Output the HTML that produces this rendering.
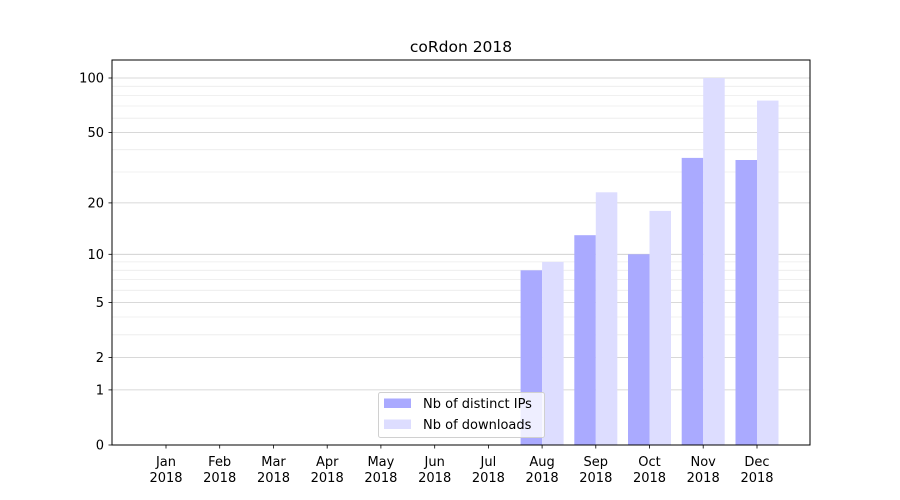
<!DOCTYPE html>
<html><head><style>body{margin:0;background:#fff}svg{display:block;font-family:"DejaVu Sans","Liberation Sans",sans-serif}</style></head><body>
<svg width="900" height="500" xmlns="http://www.w3.org/2000/svg">
<rect width="900" height="500" fill="#fff"/>
<g stroke="#ebebeb" stroke-width="0.8">
<line x1="112" x2="810" y1="334.8" y2="334.8"/><line x1="112" x2="810" y1="317" y2="317"/>
<line x1="112" x2="810" y1="290.3" y2="290.3"/><line x1="112" x2="810" y1="279.6" y2="279.6"/>
<line x1="112" x2="810" y1="270.3" y2="270.3"/><line x1="112" x2="810" y1="261.9" y2="261.9"/>
<line x1="112" x2="810" y1="172" y2="172"/><line x1="112" x2="810" y1="149.7" y2="149.7"/>
<line x1="112" x2="810" y1="118.2" y2="118.2"/><line x1="112" x2="810" y1="106" y2="106"/>
<line x1="112" x2="810" y1="95.6" y2="95.6"/><line x1="112" x2="810" y1="86.3" y2="86.3"/>
</g>
<g stroke="#cccccc" stroke-width="0.8">
<line x1="112" x2="810" y1="389.9" y2="389.9"/><line x1="112" x2="810" y1="357.6" y2="357.6"/>
<line x1="112" x2="810" y1="302.5" y2="302.5"/><line x1="112" x2="810" y1="254.3" y2="254.3"/>
<line x1="112" x2="810" y1="202.9" y2="202.9"/><line x1="112" x2="810" y1="132.4" y2="132.4"/>
<line x1="112" x2="810" y1="78" y2="78"/>
</g>
<g fill="#aaaaff">
<rect x="520.6" y="270.3" width="21.5" height="174.7"/>
<rect x="574.3" y="235.2" width="21.5" height="209.8"/>
<rect x="628" y="254.3" width="21.5" height="190.7"/>
<rect x="681.7" y="157.9" width="21.5" height="287.1"/>
<rect x="735.5" y="160" width="21.5" height="285"/>
</g>
<g fill="#ddddff">
<rect x="542.1" y="261.9" width="21.5" height="183.1"/>
<rect x="595.8" y="192.3" width="21.5" height="252.7"/>
<rect x="649.5" y="210.9" width="21.5" height="234.1"/>
<rect x="703.2" y="78" width="21.5" height="367"/>
<rect x="757" y="100.6" width="21.5" height="344.4"/>
</g>
<rect x="112" y="60" width="698" height="385" fill="none" stroke="#000" stroke-width="1"/>
<g stroke="#000" stroke-width="0.8">
<line x1="108.5" x2="112" y1="445" y2="445"/><line x1="108.5" x2="112" y1="389.9" y2="389.9"/>
<line x1="108.5" x2="112" y1="357.6" y2="357.6"/><line x1="108.5" x2="112" y1="302.5" y2="302.5"/>
<line x1="108.5" x2="112" y1="254.3" y2="254.3"/><line x1="108.5" x2="112" y1="202.9" y2="202.9"/>
<line x1="108.5" x2="112" y1="132.4" y2="132.4"/><line x1="108.5" x2="112" y1="78" y2="78"/>
<line x1="166" x2="166" y1="445" y2="448.5"/><line x1="219.7" x2="219.7" y1="445" y2="448.5"/>
<line x1="273.5" x2="273.5" y1="445" y2="448.5"/><line x1="327.2" x2="327.2" y1="445" y2="448.5"/>
<line x1="380.9" x2="380.9" y1="445" y2="448.5"/><line x1="434.7" x2="434.7" y1="445" y2="448.5"/>
<line x1="488.4" x2="488.4" y1="445" y2="448.5"/><line x1="542.1" x2="542.1" y1="445" y2="448.5"/>
<line x1="595.8" x2="595.8" y1="445" y2="448.5"/><line x1="649.5" x2="649.5" y1="445" y2="448.5"/>
<line x1="703.2" x2="703.2" y1="445" y2="448.5"/><line x1="757" x2="757" y1="445" y2="448.5"/>
</g>
<g font-size="13" text-anchor="end" fill="#000">
<text x="104" y="449.5">0</text><text x="104" y="394.4">1</text><text x="104" y="362.1">2</text>
<text x="104" y="307">5</text><text x="104" y="258.8">10</text><text x="104" y="207.4">20</text>
<text x="104" y="136.9">50</text><text x="104" y="82.5">100</text>
</g>
<g font-size="13" text-anchor="middle" fill="#000">
<text x="166" y="466">Jan</text><text x="166" y="482">2018</text>
<text x="219.7" y="466">Feb</text><text x="219.7" y="482">2018</text>
<text x="273.5" y="466">Mar</text><text x="273.5" y="482">2018</text>
<text x="327.2" y="466">Apr</text><text x="327.2" y="482">2018</text>
<text x="380.9" y="466">May</text><text x="380.9" y="482">2018</text>
<text x="434.7" y="466">Jun</text><text x="434.7" y="482">2018</text>
<text x="488.4" y="466">Jul</text><text x="488.4" y="482">2018</text>
<text x="542.1" y="466">Aug</text><text x="542.1" y="482">2018</text>
<text x="595.8" y="466">Sep</text><text x="595.8" y="482">2018</text>
<text x="649.5" y="466">Oct</text><text x="649.5" y="482">2018</text>
<text x="703.2" y="466">Nov</text><text x="703.2" y="482">2018</text>
<text x="757" y="466">Dec</text><text x="757" y="482">2018</text>
<text x="461" y="52" font-size="15.5">coRdon 2018</text>
</g>
<rect x="378.5" y="392.5" width="166" height="45" rx="2" fill="#fff" fill-opacity="0.8" stroke="#d0d0d0"/>
<rect x="384" y="398.5" width="27" height="9.5" fill="#aaaaff"/>
<rect x="384" y="419.5" width="27" height="9.5" fill="#ddddff"/>
<text x="423" y="408" font-size="13">Nb of distinct IPs</text>
<text x="423" y="429" font-size="13">Nb of downloads</text>
</svg>
</body></html>
